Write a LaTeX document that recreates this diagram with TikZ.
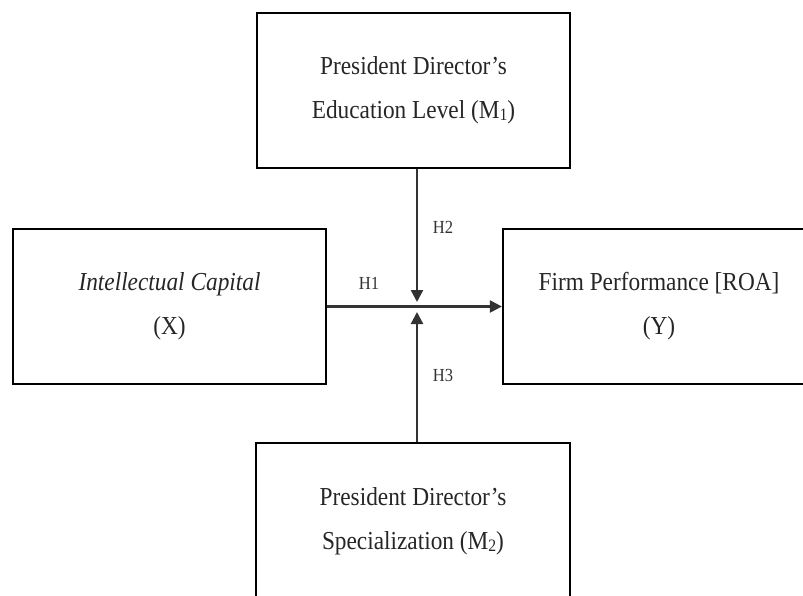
\documentclass[tikz,border=0pt]{standalone}
\usepackage{fontspec}
\setmainfont{Liberation Serif}[FakeStretch=0.9]
\usetikzlibrary{arrows.meta}
\newcommand{\mysub}[1]{{\fontsize{17.5}{17.5}\selectfont\raisebox{-1.5bp}{#1}}}
\begin{document}
\begin{tikzpicture}[x=1bp,y=-1bp,
  boxstyle/.style={draw=black, line width=2.3bp, inner sep=0pt, align=center,
    font=\fontsize{26}{44}\selectfont, text=black!85},
  conn/.style={draw=black!80, line width=2.3bp, -{Triangle[length=12bp,width=12bp]}},
  hlabel/.style={font=\fontsize{18.5}{18.5}\selectfont, text=black!80, inner sep=0pt}]
\useasboundingbox (0,0) rectangle (803,596);
\clip (0,0) rectangle (803,596);
\node[boxstyle, minimum width=313bp, minimum height=155bp] (m1) at (413.5,90.5)
  {President Director’s\\Education Level (M\mysub{1})};
\node[boxstyle, minimum width=313bp, minimum height=155bp] (x) at (169.5,306.5)
  {\textit{Intellectual Capital}\\(X)};
\node[boxstyle, minimum width=312bp, minimum height=155bp] (y) at (659,306.5)
  {Firm Performance [ROA]\\(Y)};
\node[boxstyle, minimum width=314bp, minimum height=157bp] (m2) at (413,521.5)
  {President Director’s\\Specialization (M\mysub{2})};
\coordinate (meet) at (417,306.5);
\draw[conn] (x.east |- meet) -- (y.west |- meet);
\draw[conn] (m1.south -| meet) -- ([yshift=4.5bp]meet);
\draw[conn] (m2.north -| meet) -- ([yshift=-5.5bp]meet);
\node[hlabel] (h1) at (369,283) {H1};
\node[hlabel] (h2) at (443,227) {H2};
\node[hlabel] (h3) at (443,375) {H3};
\end{tikzpicture}
\end{document}
